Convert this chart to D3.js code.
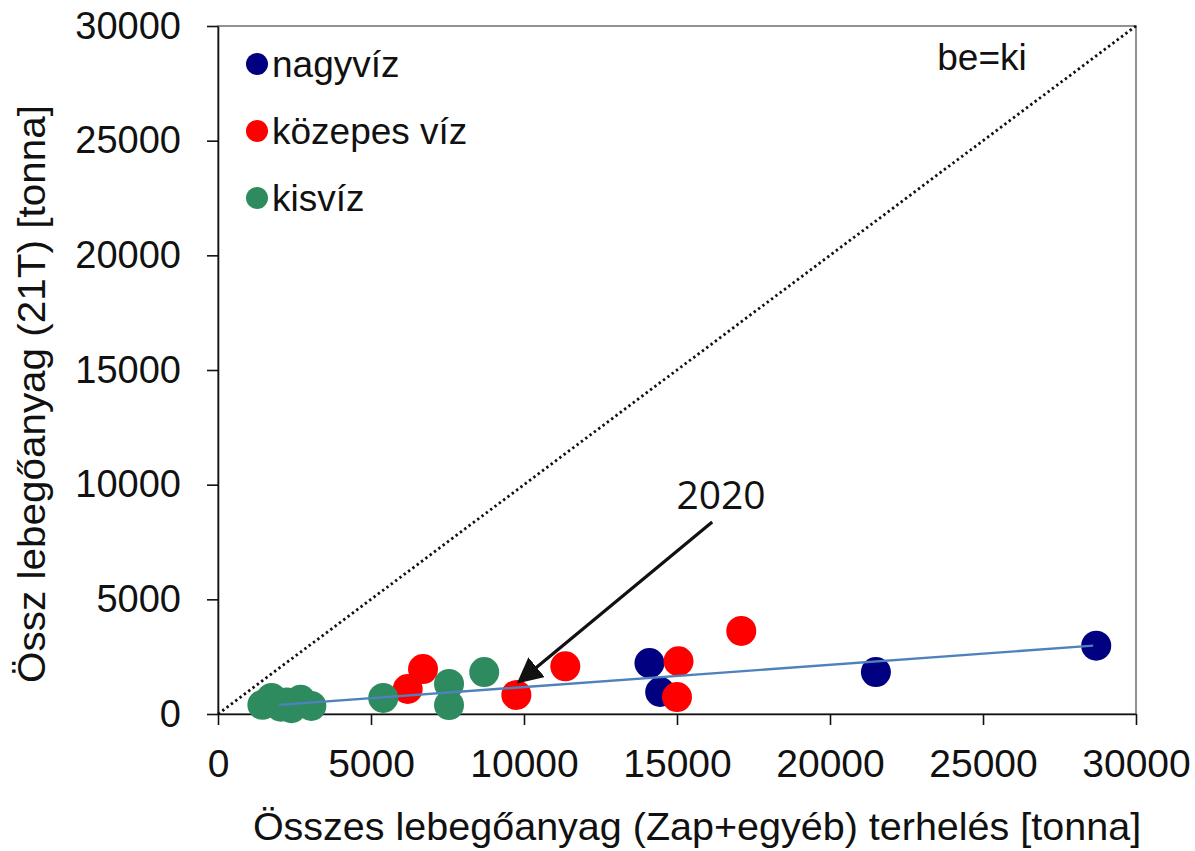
<html>
<script src="https://d3js.org/d3.v7.min.js"></script>
<style>
body {margin: 0; background: #fff;}
text {font-family: Arial, "Liberation Sans", sans-serif; fill: #111;}
.axis path, .axis line {stroke: #111; stroke-width: 1.6;}
</style>
<body>
<svg width=1195 height=851></svg>
<script>
// nagyvíz (high water)
var nagyX = [28700, 21500, 14100, 14450]
var nagyY = [2980, 1830, 2220, 960]
// közepes víz (medium water)
var kozepesX = [17100, 15050, 15000, 11350, 9750, 6700, 6200]
var kozepesY = [3620, 2300, 740, 2080, 830, 1960, 1090]
// kisvíz (low water)
var kisX = [8700, 7550, 7550, 5400, 1450, 1750, 2050, 2400, 2700, 3050, 2250]
var kisY = [1830, 1310, 390, 700, 400, 700, 320, 250, 620, 350, 500]
// trend line end points
var trendX = [2000, 28600]
var trendY = [400, 2980]
// be=ki diagonal
var diagX = [0, 30000]
var diagY = [0, 30000]
// 2020 arrow: from -> to
var arrowX = [16150, 9830]
var arrowY = [8370, 1400]
var annotLabel = "2020"
var annotX = 16440, annotY = 8940

var tickValues = [0, 5000, 10000, 15000, 20000, 25000, 30000]
var seriesNames = ["nagyvíz", "közepes víz", "kisvíz"]
var seriesColors = ["#000080", "#ff0000", "#2e8b5f"]

var svg = d3.select("svg")
var mLeft = 218, mRight = 1136, mTop = 26, mBottom = 714

var x = d3.scaleLinear().domain([0, 30000]).range([mLeft, mRight])
var y = d3.scaleLinear().domain([0, 30000]).range([mBottom, mTop])

// plot frame
svg.append("rect")
  .attr("x", mLeft).attr("y", mTop)
  .attr("width", mRight - mLeft).attr("height", mBottom - mTop)
  .style("fill", "none").style("stroke", "#777").style("stroke-width", 1.6)

// axes
svg.append("g").attr("class", "axis")
  .attr("transform", "translate(" + mLeft + ",0)")
  .call(d3.axisLeft(y).tickValues(tickValues).tickSize(11).tickPadding(26).tickSizeOuter(0).tickFormat(d3.format("d")))
  .selectAll("text").style("font-size", "38px").style("font-family", "Arial, 'Liberation Sans', sans-serif").style("fill", "#111")

svg.append("g").attr("class", "axis")
  .attr("transform", "translate(0," + mBottom + ")")
  .call(d3.axisBottom(x).tickValues(tickValues).tickSize(11).tickPadding(24).tickSizeOuter(0).tickFormat(d3.format("d")))
  .selectAll("text").style("font-size", "39px").style("font-family", "Arial, 'Liberation Sans', sans-serif").style("fill", "#111")

// be=ki dotted diagonal
var line = d3.line().x(function(d){return x(d[0])}).y(function(d){return y(d[1])})
svg.append("path")
  .attr("d", line(d3.zip(diagX, diagY)))
  .style("fill", "none").style("stroke", "#111").style("stroke-width", 2.8)
  .style("stroke-dasharray", "2.4,3")

// points
var series = [d3.zip(nagyX, nagyY), d3.zip(kozepesX, kozepesY), d3.zip(kisX, kisY)]
series.forEach(function(pts, i) {
  svg.append("g").selectAll("circle")
    .data(pts).enter().append("circle")
    .attr("cx", function(d){return x(d[0])})
    .attr("cy", function(d){return y(d[1])})
    .attr("r", 15)
    .style("fill", seriesColors[i])
})

// trend line
svg.append("path")
  .attr("d", line(d3.zip(trendX, trendY)))
  .style("fill", "none").style("stroke", "#4f81bd").style("stroke-width", 2.4)

// arrow for 2020
svg.append("defs").append("marker")
  .attr("id", "arrow").attr("viewBox", "0 0 10 10")
  .attr("refX", 9).attr("refY", 5)
  .attr("markerWidth", 8).attr("markerHeight", 8)
  .attr("markerUnits", "strokeWidth")
  .attr("orient", "auto")
  .append("path").attr("d", "M0,0 L10,5 L0,10 z").style("fill", "#111")

svg.append("path")
  .attr("d", line(d3.zip(arrowX, arrowY)))
  .style("fill", "none").style("stroke", "#111").style("stroke-width", 3.2)
  .attr("marker-end", "url(#arrow)")

svg.append("text")
  .attr("x", x(annotX)).attr("y", y(annotY))
  .attr("text-anchor", "middle")
  .style("font-family", "'Open Sans', sans-serif").style("font-size", "39px")
  .text(annotLabel)

// legend
var legend = svg.append("g").selectAll("g")
  .data(seriesNames).enter().append("g")
  .attr("transform", function(d, i){return "translate(257," + (64 + i * 67) + ")"})
legend.append("circle").attr("r", 11)
  .style("fill", function(d, i){return seriesColors[i]})
legend.append("text").attr("x", 15).attr("dy", "0.35em")
  .style("font-size", "37px").text(function(d){return d})

svg.append("text")
  .attr("x", 982).attr("y", 70)
  .attr("text-anchor", "middle")
  .style("font-size", "37px")
  .text("be=ki")

// axis titles
svg.append("text")
  .attr("x", 697).attr("y", 840)
  .attr("text-anchor", "middle")
  .style("font-size", "39.5px")
  .text("Összes lebegőanyag (Zap+egyéb) terhelés [tonna]")

svg.append("text")
  .attr("transform", "translate(45,394) rotate(-90)")
  .attr("text-anchor", "middle")
  .attr("textLength", 578).attr("lengthAdjust", "spacingAndGlyphs")
  .style("font-size", "39px")
  .text("Össz lebegőanyag (21T) [tonna]")
</script>
</body>
</html>
